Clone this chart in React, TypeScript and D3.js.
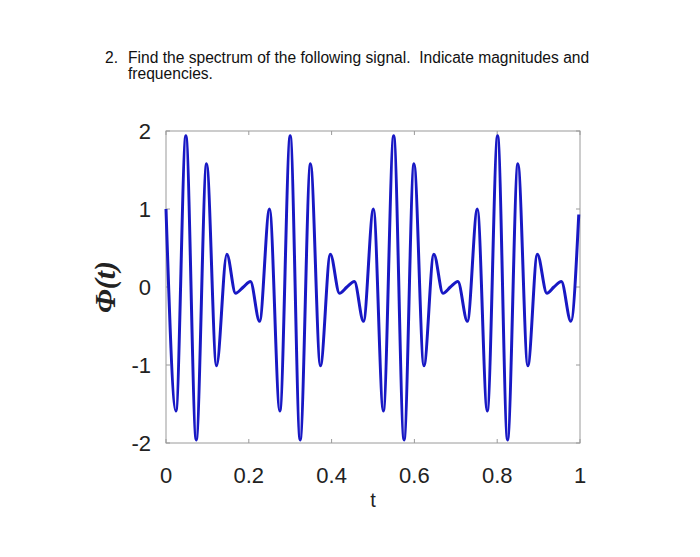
import React from "react";
import * as d3 from "d3";

// Signal samples (extrema and shape points)
const tValues: number[] = [
  0.0, 0.024, 0.048, 0.073, 0.098, 0.122, 0.147, 0.168, 0.187, 0.204, 0.226,
  0.25, 0.275, 0.3, 0.324, 0.349, 0.373, 0.397, 0.419, 0.437, 0.455, 0.477,
  0.501, 0.525, 0.55, 0.575, 0.599, 0.623, 0.647, 0.669, 0.687, 0.705, 0.728,
  0.752, 0.776, 0.801, 0.825, 0.85, 0.874, 0.897, 0.92, 0.937, 0.955, 0.978, 0.997,
];
const phiValues: number[] = [
  1.0, -1.59, 1.94, -1.96, 1.58, -1.01, 0.42, -0.08, 0.0, 0.07, -0.44,
  1.0, -1.59, 1.94, -1.96, 1.58, -1.01, 0.42, -0.08, 0.0, 0.07, -0.44,
  1.0, -1.59, 1.94, -1.96, 1.58, -1.01, 0.42, -0.08, 0.0, 0.07, -0.44,
  1.0, -1.59, 1.94, -1.96, 1.58, -1.01, 0.42, -0.08, 0.0, 0.07, -0.44, 0.93,
];
const xTicks: number[] = [0, 0.2, 0.4, 0.6, 0.8, 1];
const xTickLabels: string[] = ["0", "0.2", "0.4", "0.6", "0.8", "1"];
const yTicks: number[] = [-2, -1, 0, 1, 2];
const yTickLabels: string[] = ["-2", "-1", "0", "1", "2"];
const titleLines: string[] = [
  "Find the spectrum of the following signal.  Indicate magnitudes and",
  "frequencies.",
];

export default function App() {
  const W = 700, H = 557;
  const L = 166, R = 580, T = 131, B = 443;
  const x = d3.scaleLinear().domain([0, 1]).range([L, R]);
  const y = d3.scaleLinear().domain([-2, 2]).range([B, T]);
  const pts = tValues.map((t, i) => [t, phiValues[i]] as [number, number]);
  const line = d3
    .line<[number, number]>()
    .x((d) => x(d[0]))
    .y((d) => y(d[1]))
    .curve(d3.curveMonotoneX);
  const frame = "#9a9a9a";
  const tickLen = 4;
  const sans = "'Liberation Sans', Arial, sans-serif";
  return (
    <svg
      width={W}
      height={H}
      style={{ position: "absolute", left: 0, top: 0, background: "#fff" }}
    >
      <rect x={0} y={0} width={W} height={H} fill="#fff" />
      <text x={105} y={63} fontFamily={sans} fontSize={15.6} fill="#111">2.</text>
      {titleLines.map((s, i) => (
        <text
          key={i}
          x={128}
          y={63 + i * 16}
          fontFamily={sans}
          fontSize={15.6}
          fill="#111"
          style={{ whiteSpace: "pre" }}
        >
          {s}
        </text>
      ))}
      <rect x={L} y={T} width={R - L} height={B - T} fill="none" stroke={frame} strokeWidth={1} />
      {xTicks.map((v, i) => (
        <g key={"x" + i}>
          <line x1={x(v)} x2={x(v)} y1={B} y2={B - tickLen} stroke={frame} />
          <line x1={x(v)} x2={x(v)} y1={T} y2={T + tickLen} stroke={frame} />
          <text x={x(v)} y={483} textAnchor="middle" fontFamily={sans} fontSize={22} fill="#222">
            {xTickLabels[i]}
          </text>
        </g>
      ))}
      {yTicks.map((v, i) => (
        <g key={"y" + i}>
          <line x1={L} x2={L + tickLen} y1={y(v)} y2={y(v)} stroke={frame} />
          <line x1={R} x2={R - tickLen} y1={y(v)} y2={y(v)} stroke={frame} />
          <text x={151} y={y(v) + 8} textAnchor="end" fontFamily={sans} fontSize={22} fill="#222">
            {yTickLabels[i]}
          </text>
        </g>
      ))}
      <path d={line(pts) || ""} fill="none" stroke="#1818c4" strokeWidth={3} strokeLinejoin="round" />
      <text x={373} y={507} textAnchor="middle" fontFamily={sans} fontSize={20} fill="#222">t</text>
      <text
        transform="translate(115,287) rotate(-90)"
        textAnchor="middle"
        fontFamily="'Liberation Serif', 'Times New Roman', serif"
        fontWeight="bold"
        fontStyle="italic"
        fontSize={30}
        fill="#222"
      >
        Φ(t)
      </text>
    </svg>
  );
}
